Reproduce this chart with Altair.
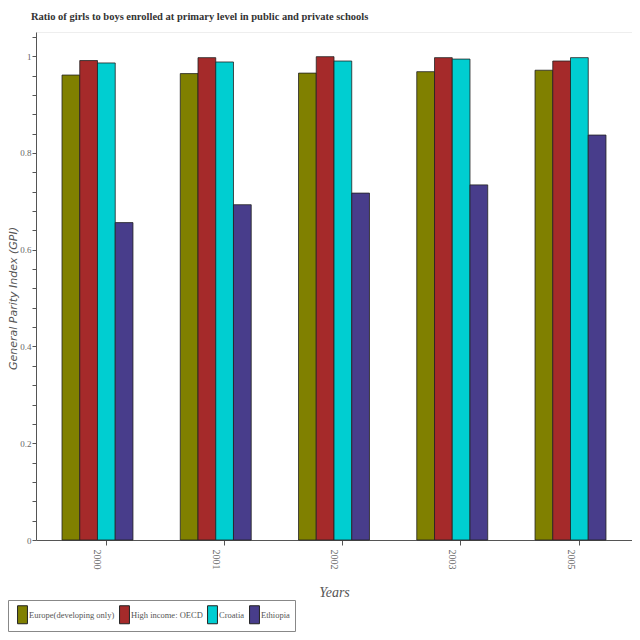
import altair as alt
import pandas as pd

years = ["2000", "2001", "2002", "2003", "2005"]
series = ["Europe(developing only)", "High income: OECD", "Croatia", "Ethiopia"]
europe = [0.961, 0.964, 0.965, 0.968, 0.971]
high_income = [0.991, 0.997, 0.999, 0.997, 0.990]
croatia = [0.986, 0.988, 0.990, 0.994, 0.997]
ethiopia = [0.656, 0.693, 0.717, 0.734, 0.837]
colors = ["#808000", "#A52A2A", "#00CED1", "#483D8B"]
y_ticks = [0, 0.04, 0.08, 0.12, 0.16, 0.2, 0.24, 0.28, 0.32, 0.36, 0.4, 0.44,
           0.48, 0.52, 0.56, 0.6, 0.64, 0.68, 0.72, 0.76, 0.8, 0.84, 0.88,
           0.92, 0.96, 1.0, 1.04]

rows = []
for name, vals in zip(series, [europe, high_income, croatia, ethiopia]):
    for y, v in zip(years, vals):
        rows.append({"Year": y, "Series": name, "GPI": v})
df = pd.DataFrame(rows)

serif = "Liberation Serif"

chart = alt.Chart(df).mark_bar(stroke="#222222", strokeWidth=1, strokeOpacity=0.8).encode(
    x=alt.X("Year:N", sort=years,
            scale=alt.Scale(paddingInner=0.4, paddingOuter=0.22),
            axis=alt.Axis(title="Years", labelAngle=90, bandPosition=0.62,
                          labelFont=serif, labelFontSize=10, labelColor="#666666",
                          labelAlign="left", labelBaseline="middle", labelPadding=4,
                          tickColor="#555555", tickSize=5, domainColor="#555555",
                          titleFont=serif, titleFontStyle="italic", titleFontWeight="normal",
                          titleFontSize=14, titleColor="#555555", titlePadding=16)),
    xOffset=alt.XOffset("Series:N", sort=series, scale=alt.Scale(paddingInner=0)),
    y=alt.Y("GPI:Q", scale=alt.Scale(domain=[0, 1.05], nice=False, zero=True),
            axis=alt.Axis(title="General Parity Index (GPI)", values=y_ticks,
                          labelExpr="abs(datum.value*5 - round(datum.value*5)) < 0.001 ? format(datum.value, '~g') : ''",
                          labelFont=serif, labelFontSize=9, labelColor="#666666",
                          labelPadding=1, tickSize=4, tickColor="#555555",
                          domainColor="#555555", grid=False,
                          titleFont="DejaVu Sans", titleFontStyle="italic",
                          titleFontWeight="normal", titleFontSize=11,
                          titleColor="#555555", titleX=-18, titleY=266,
                          titleAngle=-90, titleBaseline="bottom", titleAlign="center")),
    color=alt.Color("Series:N", sort=series,
                    scale=alt.Scale(domain=series, range=colors),
                    legend=alt.Legend(title=None, orient="none", legendX=-28, legendY=568,
                                      direction="horizontal", columns=4,
                                      symbolType="M-0.55,-1L0.55,-1L0.55,1L-0.55,1Z",
                                      symbolSize=324,
                                      symbolStrokeColor="#222222",
                                      symbolStrokeWidth=1, symbolOpacity=1,
                                      labelFont=serif, labelFontSize=8.5,
                                      labelColor="#555555", labelOffset={"expr": "-3"},
                                      columnPadding=0, padding=5,
                                      strokeColor="#888888", fillColor="white")),
).properties(
    width=596,
    height=508,
    padding={"left": 28, "top": 24, "right": 0, "bottom": 92},
    autosize=alt.AutoSizeParams(type="none"),
    title=alt.TitleParams("Ratio of girls to boys enrolled at primary level in public and private schools",
                          anchor="start", frame="group", font=serif, fontSize=10.5,
                          fontWeight="bold", color="#333333", offset=10, dx=-5),
).configure_view(stroke="#eeeeee", strokeWidth=1)

chart.save("out.html", embed_options={"renderer": "svg", "actions": False})
